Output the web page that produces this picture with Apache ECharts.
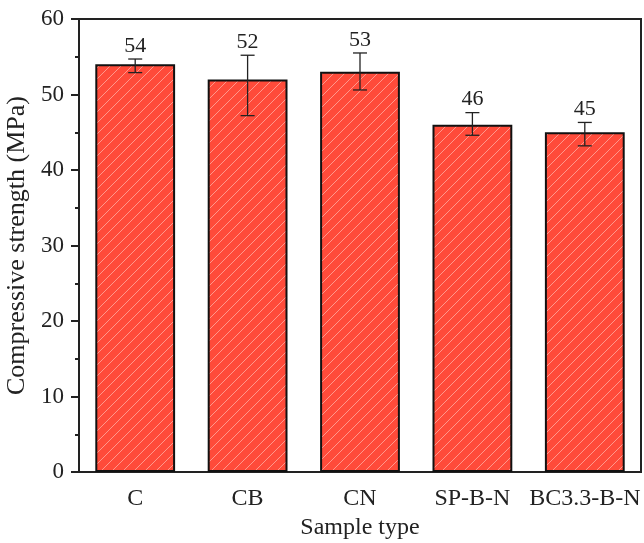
<!DOCTYPE html>
<html>
<head>
<meta charset="utf-8">
<script src="https://cdn.jsdelivr.net/npm/echarts@6/dist/echarts.min.js"></script>
<style>
  html, body { margin: 0; padding: 0; background: #fff; }
  #chart { width: 644px; height: 543px; }
</style>
</head>
<body>
<div id="chart"></div>
<script>
const categories = ['C', 'CB', 'CN', 'SP-B-N', 'BC3.3-B-N']
const strength = [54, 52, 53, 46, 45]
const errLow = [52.9, 47.2, 50.6, 44.6, 43.2]
const errHigh = [54.7, 55.2, 55.5, 47.6, 46.3]
const yTicks = [0, 10, 20, 30, 40, 50, 60]

// hatched red fill
const tile = document.createElement('canvas')
tile.width = 11
tile.height = 11
const tc = tile.getContext('2d')
tc.fillStyle = '#ff4b3a'
tc.fillRect(0, 0, 11, 11)
tc.strokeStyle = 'rgba(255,185,175,0.7)'
tc.lineWidth = 1
tc.beginPath()
tc.moveTo(-1, 12); tc.lineTo(12, -1)
tc.moveTo(-12, 12); tc.lineTo(1, -1)
tc.moveTo(10, 12); tc.lineTo(23, -1)
tc.stroke()

const font = 'Liberation Serif, Times New Roman, serif'

const chart = echarts.init(document.getElementById('chart'))
chart.setOption({
  animation: false,
  textStyle: { fontFamily: font },
  grid: {
    left: 79, right: 3, top: 19, bottom: 71,
    outerBoundsMode: 'none', containLabel: false,
    show: true, borderColor: '#222', borderWidth: 2, backgroundColor: 'transparent',
  },
  xAxis: [
    {
      type: 'category',
      data: categories,
      name: 'Sample type',
      nameLocation: 'middle',
      nameGap: 41,
      nameTextStyle: { fontSize: 24, color: '#222', fontFamily: font },
      axisLine: { lineStyle: { color: '#222', width: 2 } },
      axisTick: { alignWithLabel: true, length: 8, lineStyle: { color: '#222', width: 2 } },
      axisLabel: { interval: 0, fontSize: 24, color: '#222', fontFamily: font, margin: 15 },
    },
    {
      type: 'category',
      data: categories,
      position: 'bottom',
      axisLine: { show: false },
      axisTick: { length: 4, lineStyle: { color: '#222', width: 2 } },
      axisLabel: { show: false },
    },
  ],
  yAxis: {
    type: 'value',
    min: yTicks[0],
    max: yTicks[yTicks.length - 1],
    interval: 10,
    name: 'Compressive strength (MPa)',
    nameLocation: 'middle',
    nameGap: 44,
    nameTextStyle: { fontSize: 26, color: '#222', fontFamily: font },
    axisLine: { show: true, lineStyle: { color: '#222', width: 2 } },
    axisTick: { show: true, length: 8, lineStyle: { color: '#222', width: 2 } },
    minorTick: { show: true, splitNumber: 2, length: 4, lineStyle: { color: '#222', width: 2 } },
    splitLine: { show: false },
    axisLabel: { fontSize: 23, color: '#222', fontFamily: font, margin: 15 },
  },
  series: [
    {
      type: 'bar',
      data: strength,
      barWidth: '71%',
      itemStyle: { color: { image: tile, repeat: 'repeat' }, borderColor: '#111', borderWidth: 2 },
    },
    {
      type: 'custom',
      data: categories.map((c, i) => [i, errLow[i], errHigh[i], strength[i]]),
      encode: { x: 0, y: [1, 2] },
      z: 10,
      renderItem: (params, api) => {
        const i = api.value(0)
        const lo = api.coord([i, api.value(1)])
        const hi = api.coord([i, api.value(2)])
        const w = 7
        const st = { stroke: '#222', lineWidth: 1.3 }
        return {
          type: 'group',
          children: [
            { type: 'line', shape: { x1: hi[0], y1: hi[1], x2: lo[0], y2: lo[1] }, style: st },
            { type: 'line', shape: { x1: hi[0] - w, y1: hi[1], x2: hi[0] + w, y2: hi[1] }, style: st },
            { type: 'line', shape: { x1: lo[0] - w, y1: lo[1], x2: lo[0] + w, y2: lo[1] }, style: st },
            {
              type: 'text',
              x: hi[0],
              y: hi[1] - 2,
              style: { text: String(api.value(3)), fontSize: 22, fontFamily: font, fill: '#222', align: 'center', verticalAlign: 'bottom' },
            },
          ],
        }
      },
    },
  ],
})
</script>
</body>
</html>
